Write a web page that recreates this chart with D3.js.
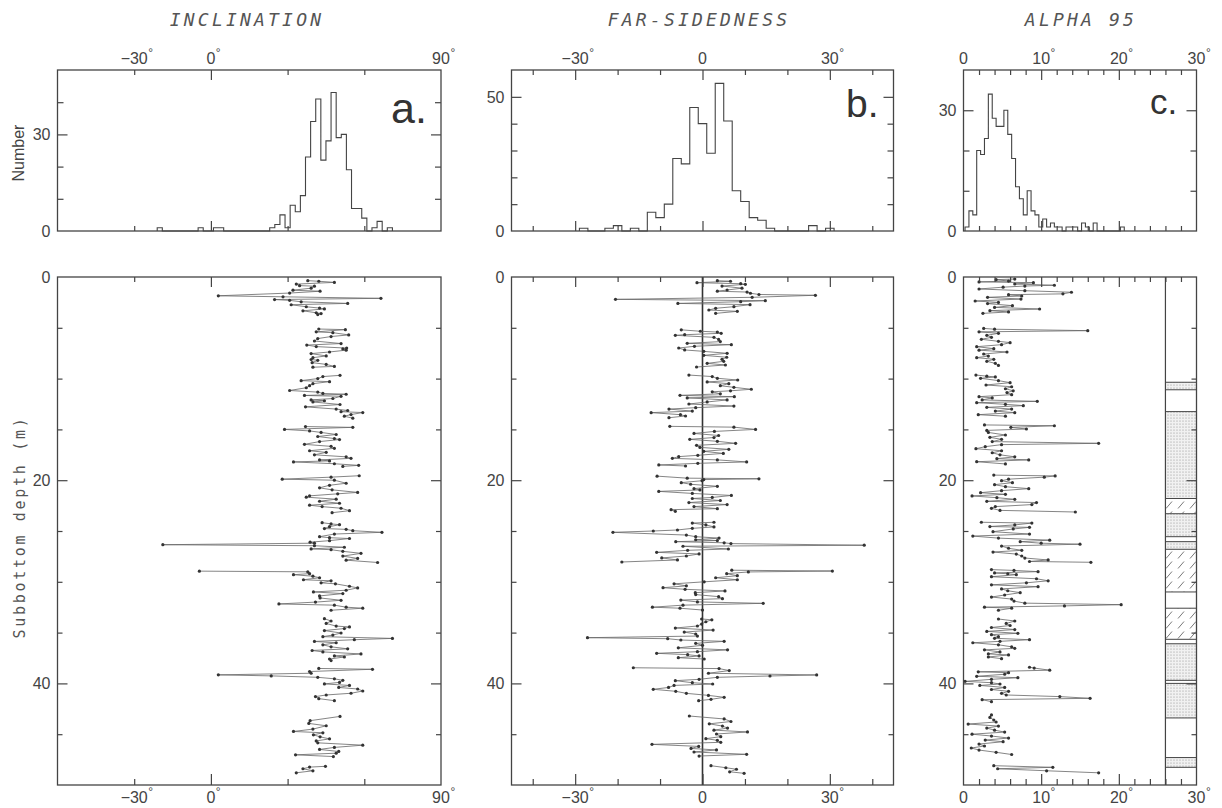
<!DOCTYPE html>
<html>
<head>
<meta charset="utf-8">
<script src="https://cdn.jsdelivr.net/npm/d3@7/dist/d3.min.js"></script>
<style>
  body { margin: 0; background: #fff; }
  .tk { font-family: "Liberation Sans", Arial, sans-serif; font-size: 16px; fill: #444; }
  .deg { font-family: "Liberation Sans", Arial, sans-serif; font-size: 12px; fill: #444; }
  .title { font-family: "DejaVu Sans Mono", monospace; font-style: italic; font-size: 18px; letter-spacing: 3.2px; fill: #555; }
  .ylab { font-family: "DejaVu Sans Mono", monospace; font-size: 15px; letter-spacing: 2.7px; fill: #555; }
  .letter { font-family: "Liberation Sans", Arial, sans-serif; fill: #333; }
  .frame { fill: none; stroke: #444; stroke-width: 1.3; }
  .tick line { stroke: #444; stroke-width: 1.2; }
</style>
</head>
<body>
<svg id="fig" width="1222" height="808"></svg>
<script>

// ---- histogram counts: [lower bin edge, count]
var incHist = [[-21,1],[-5,1],[1,1],[3,1],[23,1],[25,2],[27,5],[29,1],[31,8],[33,6],[35,11],[37,23],[39,34],
  [41,41],[43,22],[45,28],[47,43],[49,29],[51,30],[53,19],[55,7],[57,7],[59,4],[63,1],[65,3],[69,1]];
var farHist = [[-29,1],[-23,1],[-21,2],[-17,1],[-13,7],[-11,5],[-9,10],[-7,27],[-5,25],[-3,46],[-1,40],[1,29],
  [3,55],[5,41],[7,15],[9,11],[11,5],[13,4],[15,1],[25,2],[29,1]];
var a95Hist = [[0.2,1],[0.7,5],[1.2,4],[1.7,20],[2.2,19],[2.7,23],[3.2,34],[3.7,28],[4.2,26],[4.7,26],[5.2,30],
  [5.7,24],[6.2,18],[6.7,11],[7.2,8],[7.7,4],[8.2,10],[8.7,5],[9.2,4],[9.7,1],[10.2,3],[10.7,1],[11.2,2],[11.7,1],
  [12.2,1],[13.2,1],[13.7,1],[14.2,1],[15.2,2],[15.7,1],[16.7,2],[20.2,1]];

// ---- down-core series: [depth m, value deg]
var incSeries = [
[0.36,37.9],[0.42,42.2],[0.53,48.3],[0.7,33.4],[0.85,34.7],[0.9,40.5],[1.1,39.2],[1.3,32.1],[1.4,42.7],[1.58,30.8],[1.85,2.9],[1.95,28.2],[2.1,66.5],[2.22,24.9],[2.3,30.8],[2.44,35.3],[2.6,53.5],[2.73,31.4],[2.93,37.3],[3.06,42.5],[3.14,44.4],[3.33,36],[3.52,41.2],[3.6,43.1],[3.7,41.8],
[5.12,42.2],[5.18,52.6],[5.4,41.2],[5.48,47.7],[5.7,53.9],[5.86,47],[6.06,41.8],[6.3,40.5],[6.55,50.9],[6.7,37.5],[6.85,41.2],[7.0,53.1],[7.08,51.6],[7.2,52.9],[7.38,46.4],[7.54,39.2],[7.77,45.1],[7.94,39.9],[8.12,39.2],[8.2,41.8],[8.43,39.6],[8.6,45.1],[8.8,48.3],[8.88,39.9],
[9.68,50.5],[9.8,43.8],[10.0,41.8],[10.2,35.3],[10.3,46.4],[10.5,39.9],[10.7,38.6],[10.9,37.3],[11.17,30.8],[11.33,41.8],[11.46,43.8],[11.54,52.9],[11.66,36.6],[11.74,50.9],[11.96,47.7],[12.1,39.2],[12.18,44.4],[12.3,39.9],[12.55,50.5],[12.78,37],[13.0,49],[13.14,53.5],[13.26,50.9],[13.34,59.4],[13.54,54.8],[13.7,52.2],[13.9,55.5],
[14.72,37],[14.8,55.5],[15.0,28.8],[15.15,38.6],[15.3,43.1],[15.5,49],[15.7,41.8],[15.9,48.3],[16.0,50.3],[16.2,42.5],[16.47,36.6],[16.67,47],[16.86,48.3],[17.1,38.6],[17.26,45.1],[17.5,40.5],[17.7,52.9],[17.85,54.8],[18.0,42.5],[18.1,46.4],[18.2,32.3],[18.38,48.3],[18.54,57.8],[18.64,51.6],
[19.56,58],[19.7,47],[19.9,27.9],[20.0,48.3],[20.3,52.9],[20.5,46.4],[20.75,42.5],[20.95,47.4],[21.2,57.4],[21.34,49.6],[21.54,38.6],[21.67,37.3],[21.87,49],[22.07,42.5],[22.27,50.3],[22.46,38.6],[22.6,43.5],[22.76,50.9],[23.0,54.2],[23.2,47.4],
[24.18,43.5],[24.3,47],[24.38,50.3],[24.57,46.4],[24.76,44.4],[24.84,52.9],[24.97,55.5],[25.13,66.9],[25.3,48.3],[25.56,42.5],[25.66,46.4],[25.74,54.2],[25.95,46.4],[26.1,38.8],[26.2,40.5],[26.35,-18.8],[26.45,40.5],[26.6,52.2],[26.76,39.2],[26.84,47],[27.0,51.6],[27.2,58.7],[27.47,51.6],[27.7,57.4],[27.87,52.9],[28.1,65.2],
[28.95,-4.5],[29.02,37.9],[29.2,38.6],[29.3,32.3],[29.45,39.9],[29.6,42.5],[29.8,36.2],[29.9,47],[30.1,43.1],[30.2,48.7],[30.44,54.2],[30.6,57.4],[30.83,52.9],[31.0,40.1],[31.16,51.6],[31.39,42.5],[31.59,42.7],[31.82,50.9],[32.0,40.9],[32.18,26.6],[32.3,48.3],[32.5,52.9],[32.6,59.4],[32.8,47],
[33.63,44.4],[33.86,47],[34.1,45.1],[34.36,49],[34.44,54.2],[34.6,52.2],[34.8,44.4],[35.04,50.9],[35.24,47.7],[35.4,43.8],[35.57,71],[35.7,56.1],[35.87,40.5],[36.0,49],[36.2,43.8],[36.4,47],[36.6,53.5],[36.76,39.6],[36.9,43.8],[37.1,58.7],[37.3,48.3],[37.4,52.2],[37.6,46.4],[37.75,47],
[38.53,42.2],[38.61,63.2],[38.83,38.6],[39.0,39.2],[39.16,2.9],[39.26,23.6],[39.4,41.8],[39.55,48.3],[39.7,51.6],[39.9,50.3],[40.05,44.4],[40.2,54.2],[40.4,50],[40.55,57.4],[40.75,59.4],[40.97,54.8],[41.14,45.1],[41.3,40.9],[41.5,42.2],[41.7,48.3],
[43.25,50.5],[43.67,38.8],[43.94,38.3],[44.17,45.1],[44.5,39.9],[44.73,32.3],[44.86,43.8],[45.06,40.1],[45.26,42.7],[45.46,46.4],[45.66,41.2],[45.85,41.8],[46.08,59.4],[46.3,48.3],[46.5,42.5],[46.7,50],[46.87,49],[47.03,33.1],[47.2,47.9],
[48.16,44.8],[48.24,38.6],[48.4,36],[48.6,39.9],[48.8,33.4]
];

var farSeries = [
[0.36,3.5],[0.42,6.6],[0.56,-1.3],[0.66,9.0],[0.72,10.1],[0.89,4.6],[1.1,9.3],[1.28,5.8],[1.4,3.5],[1.48,10.5],[1.6,11.3],[1.72,13.3],[1.8,26.6],[2.0,11.7],[2.2,-20.5],[2.33,14.8],[2.43,9.0],[2.6,-5.8],[2.72,11.2],[2.92,7.4],[3.08,3.1],[3.25,1.5],[3.38,8.2],[3.58,3.1],
[5.2,-5.0],[5.34,-0.5],[5.42,3.5],[5.54,4.4],[5.68,-4.2],[5.74,-6.4],[5.94,2.7],[6.14,3.8],[6.36,4.2],[6.53,-3.6],[6.66,6.8],[6.82,-1.9],[6.99,-5.6],[7.18,-4.2],[7.32,0.3],[7.51,5.8],[7.71,0.3],[7.9,5.7],[8.1,4.6],[8.3,5.0],[8.5,1.1],[8.66,5.4],[8.86,-1.4],
[9.65,-3.2],[9.8,2.3],[9.97,3.5],[10.14,8.3],[10.33,1.1],[10.5,6.2],[10.7,4.2],[10.86,7.4],[11.05,11.5],[11.2,6.6],[11.3,2.3],[11.5,4.2],[11.65,-5.3],[11.78,7.5],[11.9,-3.6],[12.1,5.8],[12.3,1.1],[12.5,-3.2],[12.7,7.4],[12.86,-1.6],[13.0,-7.9],[13.2,-2.4],[13.35,-12.1],[13.55,-5.2],[13.68,-4.0],[13.85,-7.9],
[14.7,-7.7],[14.78,7.4],[15.0,12.5],[15.2,2.8],[15.4,-2.0],[15.6,3.8],[15.8,2.7],[15.98,-3.0],[16.17,3.5],[16.37,7.8],[16.57,-1.4],[16.77,-0.6],[16.96,6.2],[17.16,0.3],[17.36,4.9],[17.55,-1.1],[17.68,-5.6],[17.85,-7.1],[18.0,3.5],[18.2,10.4],[18.34,-1.1],[18.5,-10.3],[18.6,-4.0],
[19.6,-10.7],[19.8,-3.6],[19.86,13.3],[19.94,0.3],[20.05,-0.1],[20.24,-5.0],[20.4,-2.8],[20.6,3.5],[20.83,-2.0],[20.96,-0.6],[21.1,-10.3],[21.3,-2.4],[21.5,6.8],[21.7,2.3],[21.8,-2.4],[22.0,4.2],[22.2,-3.2],[22.4,5.8],[22.6,-2.0],[22.8,3.5],[22.9,-7.4],[23.06,-6.4],
[24.14,2.7],[24.22,-2.4],[24.4,0.8],[24.6,2.7],[24.74,-2.4],[24.9,-5.9],[25.0,-11.6],[25.13,-21.1],[25.4,-3.8],[25.56,-1.6],[25.7,3.9],[25.86,-1.6],[25.94,3.5],[26.05,-6.3],[26.16,5.1],[26.24,6.7],[26.4,38.1],[26.5,-4.6],[26.77,6.1],[26.9,-3.5],[27.1,-10.8],[27.26,-0.8],[27.46,-3.8],[27.65,-9.6],[27.85,-5.9],[28.05,-19.0],
[28.86,6.9],[28.94,30.6],[29.03,10.8],[29.2,5.7],[29.4,8.2],[29.6,3.1],[29.8,8.2],[30.0,0.4],[30.2,-6.7],[30.4,-3.8],[30.58,-9.3],[30.74,-4.1],[30.9,5.3],[31.07,-1.7],[31.26,-1.6],[31.46,3.8],[31.66,4.7],[31.8,-5.1],[31.98,-1.2],[32.12,14.3],[32.3,-4.6],[32.5,-11.8],[32.6,-5.3],[32.78,0],
[33.66,-0.2],[33.74,2.2],[33.93,0.8],[34.16,-0.2],[34.35,-1.2],[34.55,-6.4],[34.75,2.5],[34.95,-4.3],[35.14,-1.6],[35.34,-1.2],[35.5,-27.1],[35.6,-8.2],[35.73,-5.1],[35.86,5.1],[36.06,-1.6],[36.25,0],[36.5,-5.7],[36.7,5.9],[36.88,-1.2],[37.04,-10.8],[37.17,-3.5],[37.3,-0.8],[37.47,-5.7],[37.6,0.4],
[38.46,-16.3],[38.54,3.9],[38.74,6.3],[39.0,1.4],[39.17,26.9],[39.27,15.9],[39.4,3.5],[39.6,-0.8],[39.73,-6.4],[39.93,-2.4],[40.06,2.4],[40.2,-6.7],[40.4,-8.0],[40.58,-11.6],[40.78,-6.3],[40.98,-3.8],[41.18,1.4],[41.37,5.1],[41.57,2.0],[41.7,-0.9],
[43.21,-3.1],[43.5,5.1],[43.75,6.7],[43.98,1.6],[44.2,4.7],[44.4,5.9],[44.6,2.7],[44.78,10.6],[44.98,3.3],[45.24,4.3],[45.44,0.8],[45.6,3.5],[45.8,4.3],[46.0,-11.9],[46.2,-0.9],[46.4,-2.7],[46.55,3.3],[46.75,-2.0],[46.98,10.4],[47.15,-0.8],
[48.1,2.0],[48.3,5.5],[48.45,8.0],[48.7,6.4],[48.85,9.8]
];

var a95Series = [
[0.2,6.6],[0.26,4.2],[0.4,5.8],[0.48,2.0],[0.56,9.0],[0.69,6.6],[0.81,11.7],[0.89,7.9],[1.0,5.1],[1.18,2.0],[1.35,7.9],[1.5,13.9],[1.66,12.8],[1.74,5.8],[1.87,7.5],[2.0,3.1],[2.17,7.4],[2.36,1.5],[2.5,4.5],[2.62,3.1],[2.82,6.3],[2.99,4.0],[3.15,9.8],[3.31,3.4],[3.44,5.8],[3.58,2.5],
[5.06,2.6],[5.14,4.0],[5.28,16.0],[5.4,2.0],[5.54,4.5],[5.74,3.0],[5.94,3.6],[6.13,2.3],[6.33,4.5],[6.46,6.0],[6.66,4.9],[6.86,1.7],[7.05,3.9],[7.2,2.0],[7.38,5.6],[7.58,2.6],[7.78,3.2],[7.94,1.7],[8.1,3.9],[8.3,3.0],[8.5,4.1],[8.7,4.5],
[9.65,1.6],[9.76,3.0],[9.84,4.1],[9.97,2.2],[10.2,4.5],[10.4,6.0],[10.63,2.9],[10.8,6.2],[11.0,5.4],[11.2,6.4],[11.38,5.6],[11.58,6.2],[11.78,2.0],[11.9,3.7],[12.1,2.4],[12.24,9.5],[12.37,1.7],[12.53,5.4],[12.66,7.7],[12.83,3.0],[13.0,6.2],[13.2,4.1],[13.35,6.6],[13.55,1.9],[13.7,5.4],
[14.56,2.7],[14.64,11.7],[14.8,6.1],[14.96,8.1],[15.1,3.0],[15.3,3.2],[15.55,5.4],[15.78,3.4],[15.98,4.9],[16.2,3.7],[16.37,17.4],[16.5,4.9],[16.7,2.8],[16.9,1.6],[17.1,4.9],[17.3,3.7],[17.5,4.7],[17.7,6.6],[17.88,4.3],[18.0,8.4],[18.18,1.7],[18.4,5.4],
[19.5,3.9],[19.58,11.8],[19.7,10.4],[19.9,5.8],[20.05,4.9],[20.24,6.3],[20.44,4.0],[20.64,5.4],[20.83,8.4],[21.03,4.9],[21.23,2.2],[21.39,5.4],[21.55,1.1],[21.72,4.3],[21.88,6.6],[22.08,3.0],[22.2,9.4],[22.4,8.8],[22.6,4.1],[22.77,3.6],[22.97,4.7],[23.13,14.4],
[24.14,2.3],[24.22,8.8],[24.4,6.6],[24.56,3.4],[24.64,8.5],[24.8,6.4],[25.07,3.8],[25.3,8.5],[25.5,1.2],[25.7,4.5],[25.9,11.1],[26.05,7.3],[26.2,10.0],[26.3,15.0],[26.48,4.9],[26.7,5.8],[26.9,7.5],[27.07,3.8],[27.27,6.8],[27.46,7.5],[27.66,7.9],[27.85,10.9],[28.0,8.5],[28.08,16.4],
[28.8,3.6],[28.88,6.5],[29.0,9.6],[29.13,4.0],[29.21,5.7],[29.3,6.8],[29.5,3.6],[29.7,9.4],[29.9,10.9],[30.1,8.1],[30.3,3.6],[30.48,9.6],[30.7,4.9],[30.88,5.7],[31.07,7.3],[31.3,5.3],[31.5,3.6],[31.7,6.2],[31.9,6.5],[32.1,7.9],[32.25,20.3],[32.37,13.0],[32.5,2.7],[32.6,6.2],[32.8,4.5],
[33.66,4.5],[33.86,6.6],[34.1,5.5],[34.3,6.0],[34.5,3.6],[34.7,6.6],[34.88,3.0],[35.07,7.0],[35.2,3.6],[35.4,4.5],[35.56,4.0],[35.7,8.5],[35.86,4.7],[36.0,1.2],[36.2,4.5],[36.4,6.2],[36.55,6.6],[36.7,2.7],[36.9,4.7],[37.1,3.2],[37.2,5.8],[37.4,3.2],[37.57,4.9],
[38.41,8.5],[38.49,9.1],[38.7,11.1],[38.86,1.9],[38.94,5.8],[39.1,5.3],[39.3,1.7],[39.44,7.0],[39.6,3.6],[39.8,0.2],[39.93,3.6],[40.06,4.7],[40.2,2.1],[40.4,5.3],[40.6,3.6],[40.78,5.8],[40.98,4.9],[41.14,5.5],[41.3,12.4],[41.47,16.3],[41.6,2.4],[41.8,3.6],
[43.1,3.6],[43.35,3.4],[43.6,3.9],[43.8,4.2],[44.0,0.6],[44.2,4.5],[44.4,3.0],[44.6,4.0],[44.79,5.3],[45.0,1.1],[45.18,3.6],[45.38,5.8],[45.58,2.8],[45.74,5.1],[45.97,2.0],[46.16,2.7],[46.36,1.0],[46.56,2.0],[46.78,4.2],[47.0,6.2],
[48.1,3.9],[48.26,11.5],[48.4,4.4],[48.6,10.7],[48.8,17.4]
];

// ---- lithology column: [top m, base m, kind]
var lithLayers = [[0,10.36,"clear"],[10.36,11.1,"dots"],[11.1,13.25,"clear"],[13.25,21.8,"dots"],[21.8,23.3,"hatch"],
  [23.3,25.56,"dots"],[25.56,26.05,"clear"],[26.05,26.8,"dots"],[26.8,31.0,"hatch"],[31.0,32.6,"clear"],
  [32.6,35.66,"hatch"],[35.66,36.1,"clear"],[36.1,39.7,"dots"],[39.7,40.0,"clear"],[40.0,43.4,"dots"],
  [43.4,47.3,"clear"],[47.3,48.26,"dots"],[48.26,50,"clear"]];

var depthMinor = [5,10,15,25,30,35,45];
var depthMajor = [20,40];
var depthLabels = [0,20,40];

var HT = 70, HB = 231, DT = 277, DB = 785;

var svg = d3.select("#fig");
var defs = svg.append("defs");
var dp = defs.append("pattern").attr("id","dots").attr("patternUnits","userSpaceOnUse").attr("width",3).attr("height",3);
dp.append("rect").attr("width",3).attr("height",3).attr("fill","#f1f1f1");
dp.append("circle").attr("cx",1).attr("cy",1).attr("r",0.55).attr("fill","#8a8a8a");
var hp = defs.append("pattern").attr("id","hatch").attr("patternUnits","userSpaceOnUse").attr("width",12).attr("height",10);
hp.append("line").attr("x1",2).attr("y1",8.5).attr("x2",8).attr("y2",1.5).attr("stroke","#555").attr("stroke-width",0.8);

var depthY = d3.scaleLinear().domain([0,50]).range([DT,DB]);

var panels = [
  {x0:57.5, x1:441, domain:[-60,90], histMax:50, hist:incHist, binW:2, series:incSeries,
   xMinor:[-30,30,60], xMajor:[0], xLabels:[[-30,"\u221230",true],[0,"0",true],[90,"90",true]],
   yMinor:[10,20,40], yMajor:[30], yLabels:[0,30],
   title:"INCLINATION", titleX:247, letter:"a.", letterX:391, letterY:123, letterSize:43},
  {x0:511.5, x1:893.5, domain:[-45,45], histMax:60, hist:farHist, binW:2, series:farSeries,
   xMinor:[-40,-20,-10,10,20,40], xMajor:[-30,0,30], xLabels:[[-30,"\u221230",true],[0,"0",false],[30,"30",true]],
   yMinor:[10,20,30,40], yMajor:[50], yLabels:[0,50], zeroLine:true,
   title:"FAR-SIDEDNESS", titleX:699, letter:"b.", letterX:846, letterY:117, letterSize:39},
  {x0:963.5, x1:1196.5, domain:[0,30], histMax:40, hist:a95Hist, binW:0.5, series:a95Series,
   xMinor:[2,4,6,8,12,14,16,18,22,24,26,28], xMajor:[10,20], xLabels:[[0,"0",false],[10,"10",true],[20,"20",true],[30,"30",true]],
   yMinor:[10,20], yMajor:[30], yLabels:[0,30], lith:true,
   title:"ALPHA 95", titleX:1081, letter:"c.", letterX:1150, letterY:114, letterSize:35}
];

function tickSet(g, axisFn, scale, values, size, transform) {
  g.append("g").attr("transform", transform)
    .call(axisFn(scale).tickValues(values).tickSize(size).tickSizeOuter(0).tickFormat(""))
    .call(function(s) { s.select(".domain").remove(); });
}

function xLabel(g, x, y, txt, deg) {
  var t = g.append("text").attr("class","tk").attr("x",x).attr("y",y).attr("text-anchor","middle").text(txt);
  if (deg) {
    var w = t.node().getComputedTextLength();
    g.append("text").attr("class","deg").attr("x", x + w/2 + 0.5).attr("y", y - 7).text("\u00b0");
  }
}

function histPath(bins, bw) {
  var pts = [[bins[0][0],0]], prev = bins[0][0];
  bins.forEach(function(b) {
    if (Math.abs(b[0] - prev) > 1e-6) { pts.push([prev,0]); pts.push([b[0],0]); }
    pts.push([b[0],b[1]]); pts.push([b[0]+bw,b[1]]);
    prev = b[0] + bw;
  });
  pts.push([prev,0]);
  return pts;
}

function splitCores(series) {
  var out = [], cur = [];
  series.forEach(function(d, i) {
    if (i > 0 && d[0] - series[i-1][0] > 0.6) { out.push(cur); cur = []; }
    cur.push(d);
  });
  out.push(cur);
  return out;
}

panels.forEach(function(p) {
  var g = svg.append("g");
  var x = d3.scaleLinear().domain(p.domain).range([p.x0, p.x1]);
  var hy = d3.scaleLinear().domain([0, p.histMax]).range([HB, HT]);

  // title and letter
  g.append("text").attr("class","title").attr("x",p.titleX).attr("y",26).attr("text-anchor","middle").text(p.title);
  g.append("text").attr("class","letter").attr("x",p.letterX).attr("y",p.letterY)
    .style("font-size", p.letterSize + "px").text(p.letter);

  // ---- histogram
  var line = d3.line().x(function(d){ return x(d[0]); }).y(function(d){ return hy(d[1]); });
  g.append("path").attr("d", line(histPath(p.hist, p.binW)))
    .attr("fill","none").attr("stroke","#444").attr("stroke-width",1.1);

  g.append("rect").attr("class","frame").attr("x",p.x0).attr("y",HT).attr("width",p.x1-p.x0).attr("height",HB-HT);
  tickSet(g, d3.axisBottom, x, p.xMinor, 5, "translate(0," + HT + ")");
  tickSet(g, d3.axisBottom, x, p.xMajor, 10, "translate(0," + HT + ")");
  tickSet(g, d3.axisTop, x, p.xMinor, 5, "translate(0," + HB + ")");
  tickSet(g, d3.axisTop, x, p.xMajor, 10, "translate(0," + HB + ")");
  tickSet(g, d3.axisRight, hy, p.yMinor, 6, "translate(" + p.x0 + ",0)");
  tickSet(g, d3.axisRight, hy, p.yMajor, 10, "translate(" + p.x0 + ",0)");
  tickSet(g, d3.axisLeft, hy, p.yMinor, 6, "translate(" + p.x1 + ",0)");
  tickSet(g, d3.axisLeft, hy, p.yMajor, 10, "translate(" + p.x1 + ",0)");
  p.xLabels.forEach(function(l) { xLabel(g, x(l[0]), 64, l[1], l[2]); });
  p.yLabels.forEach(function(v) {
    g.append("text").attr("class","tk").attr("x",p.x0 - 7).attr("y",hy(v)).attr("dy","0.36em")
      .attr("text-anchor","end").text(v);
  });

  // ---- down-core plot
  if (p.lith) {
    var lx = x(26);
    g.selectAll("rect.lith").data(lithLayers).enter().append("rect").attr("class","lith")
      .attr("x", lx).attr("width", p.x1 - lx)
      .attr("y", function(d){ return depthY(d[0]); })
      .attr("height", function(d){ return depthY(d[1]) - depthY(d[0]); })
      .attr("fill", function(d){ return d[2] === "clear" ? "#fff" : "url(#" + d[2] + ")"; });
    g.selectAll("line.lb").data(lithLayers.slice(1)).enter().append("line").attr("class","lb")
      .attr("x1", lx).attr("x2", p.x1)
      .attr("y1", function(d){ return depthY(d[0]); }).attr("y2", function(d){ return depthY(d[0]); })
      .attr("stroke","#444").attr("stroke-width",1);
    g.append("line").attr("x1",lx).attr("x2",lx).attr("y1",DT).attr("y2",DB)
      .attr("stroke","#444").attr("stroke-width",1.2);
  }
  if (p.zeroLine) {
    g.append("line").attr("x1",x(0)).attr("x2",x(0)).attr("y1",DT).attr("y2",DB)
      .attr("stroke","#333").attr("stroke-width",1.6);
  }

  var dline = d3.line().x(function(d){ return x(d[1]); }).y(function(d){ return depthY(d[0]); });
  g.selectAll("path.core").data(splitCores(p.series)).enter().append("path").attr("class","core")
    .attr("d", dline).attr("fill","none").attr("stroke","#666").attr("stroke-width",0.8);
  g.selectAll("circle.pt").data(p.series).enter().append("circle").attr("class","pt")
    .attr("cx", function(d){ return x(d[1]); }).attr("cy", function(d){ return depthY(d[0]); })
    .attr("r", 1.6).attr("fill","#333");

  g.append("rect").attr("class","frame").attr("x",p.x0).attr("y",DT).attr("width",p.x1-p.x0).attr("height",DB-DT);
  tickSet(g, d3.axisBottom, x, p.xMinor, 5, "translate(0," + DT + ")");
  tickSet(g, d3.axisBottom, x, p.xMajor, 10, "translate(0," + DT + ")");
  tickSet(g, d3.axisTop, x, p.xMinor, 6, "translate(0," + DB + ")");
  tickSet(g, d3.axisTop, x, p.xMajor, 11, "translate(0," + DB + ")");
  tickSet(g, d3.axisRight, depthY, depthMinor, 5, "translate(" + p.x0 + ",0)");
  tickSet(g, d3.axisRight, depthY, depthMajor, 10, "translate(" + p.x0 + ",0)");
  tickSet(g, d3.axisLeft, depthY, depthMinor, 5, "translate(" + p.x1 + ",0)");
  tickSet(g, d3.axisLeft, depthY, depthMajor, 10, "translate(" + p.x1 + ",0)");
  p.xLabels.forEach(function(l) { xLabel(g, x(l[0]), 803, l[1], l[2]); });
  depthLabels.forEach(function(v) {
    g.append("text").attr("class","tk").attr("x",p.x0 - 7).attr("y",depthY(v)).attr("dy","0.36em")
      .attr("text-anchor","end").text(v);
  });
});

// axis titles
svg.append("text").attr("class","tk").attr("transform","translate(24,153) rotate(-90)")
  .attr("text-anchor","middle").text("Number");
svg.append("text").attr("class","ylab").attr("transform","translate(25,527) rotate(-90)")
  .attr("text-anchor","middle").text("Subbottom depth (m)");

</script>
</body>
</html>
